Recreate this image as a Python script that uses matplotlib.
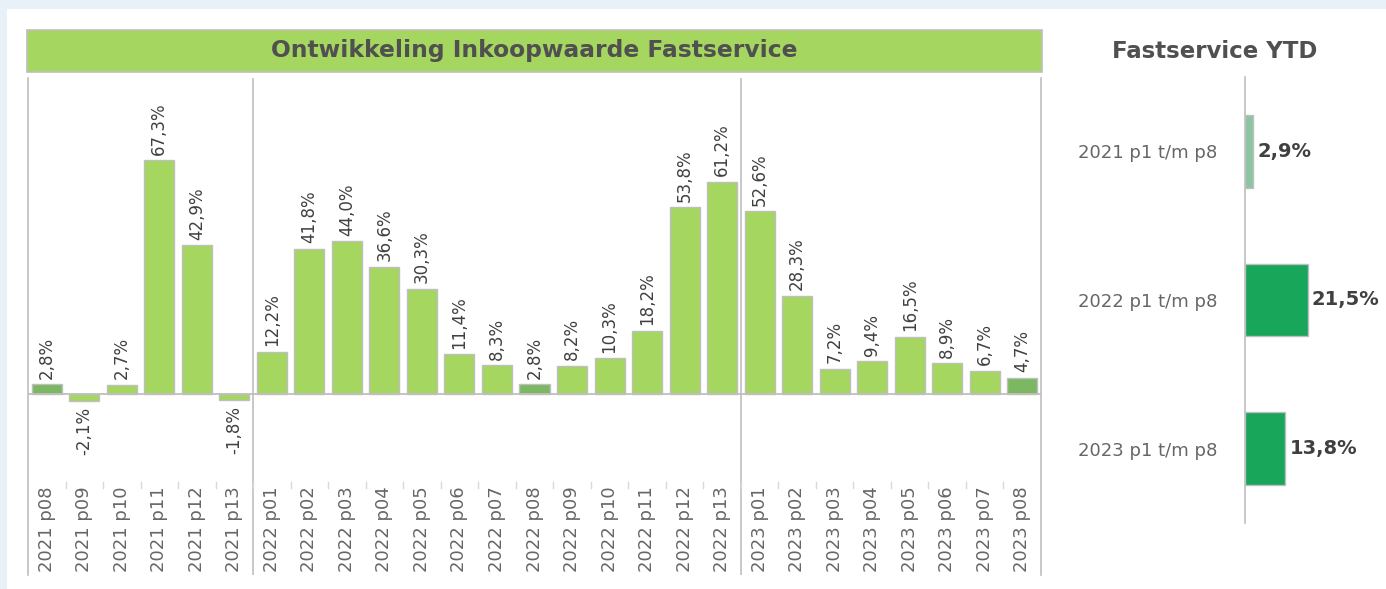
import matplotlib
matplotlib.use("Agg")
import matplotlib.pyplot as plt
from matplotlib.patches import Rectangle
import matplotlib.transforms as mtransforms

# ---- data ----
categories = ["2021 p08", "2021 p09", "2021 p10", "2021 p11", "2021 p12", "2021 p13",
              "2022 p01", "2022 p02", "2022 p03", "2022 p04", "2022 p05", "2022 p06", "2022 p07",
              "2022 p08", "2022 p09", "2022 p10", "2022 p11", "2022 p12", "2022 p13",
              "2023 p01", "2023 p02", "2023 p03", "2023 p04", "2023 p05", "2023 p06", "2023 p07",
              "2023 p08"]
values = [2.8, -2.1, 2.7, 67.3, 42.9, -1.8,
          12.2, 41.8, 44.0, 36.6, 30.3, 11.4, 8.3, 2.8, 8.2, 10.3, 18.2, 53.8, 61.2,
          52.6, 28.3, 7.2, 9.4, 16.5, 8.9, 6.7, 4.7]
ytd_labels = ["2021 p1 t/m p8", "2022 p1 t/m p8", "2023 p1 t/m p8"]
ytd_values = [2.9, 21.5, 13.8]

main_title = "Ontwikkeling Inkoopwaarde Fastservice"
ytd_title = "Fastservice YTD"

# ---- styling ----
W, H = 1386, 589
LIGHT = "#A5D65F"
DARK = "#7CB862"
YTD_LIGHT = "#8CC6A0"
YTD_DARK = "#18A65A"
GRID = "#BFBFBF"
TXT = "#404040"
LBL = "#666666"
FONT = "DejaVu Sans"
plt.rcParams['font.family'] = [FONT]

fig = plt.figure(figsize=(W / 100, H / 100), dpi=100)
fig.patch.set_facecolor("#E8F0F8")

def fr(x0, y0, x1, y1):
    """pixel box (top-left origin) -> figure fraction rect"""
    return [x0 / W, 1 - y1 / H, (x1 - x0) / W, (y1 - y0) / H]

# white panel
fig.patches.append(Rectangle((7 / W, 0), 1 - 7 / W, 1 - 9 / H, transform=fig.transFigure,
                             facecolor="white", edgecolor="none", zorder=-10))
# title bar
tb = fr(27, 30, 1042, 72)
fig.patches.append(Rectangle((tb[0], tb[1]), tb[2], tb[3], transform=fig.transFigure,
                             facecolor=LIGHT, edgecolor=GRID, linewidth=1.2, zorder=-5))
fig.text(tb[0] + tb[2] / 2, tb[1] + tb[3] / 2, main_title, ha="center", va="center",
         fontsize=16.8, fontweight="bold", color="#505050")

# ---- main axes ----
ax = fig.add_axes(fr(28, 78, 1041, 575))
ax.set_facecolor("none")
n = len(categories)
x = list(range(n))
colors = [DARK if c.endswith("p08") else LIGHT for c in categories]
ax.bar(x, values, width=0.8, color=colors, edgecolor=GRID, linewidth=1.0, zorder=2)
ax.set_xlim(-0.5, n - 0.5)
px_per = 3.47
ax.set_ylim(-(575 - 394) / px_per, (394 - 78) / px_per)
ax.axhline(0, color=GRID, linewidth=1.3, zorder=3)
for s in ["top", "bottom"]:
    ax.spines[s].set_visible(False)
for s in ["left", "right"]:
    ax.spines[s].set_color(GRID)
    ax.spines[s].set_linewidth(1.2)
ax.set_xticks([])
ax.set_yticks([])

# year separators
years = [c.split()[0] for c in categories]
for i in range(1, n):
    if years[i] != years[i - 1]:
        ax.axvline(i - 0.5, color=GRID, linewidth=1.2, zorder=1)

blend = mtransforms.blended_transform_factory(ax.transData, ax.transAxes)
# small tick marks between categories
for i in range(1, n):
    ax.plot([i - 0.5, i - 0.5], [0.175, 0.187], transform=blend, color="#D9D9D9",
            linewidth=1.0, zorder=1)
# category labels
for i, c in enumerate(categories):
    ax.text(i, 0.006, c, transform=blend, rotation=90, ha="center", va="bottom",
            fontsize=13, color=LBL)

# data labels
for i, v in enumerate(values):
    lab = f"{v:.1f}%".replace(".", ",")
    if v >= 0:
        ax.annotate(lab, (i, v), xytext=(0, 4), textcoords="offset points", rotation=90,
                    ha="center", va="bottom", fontsize=12, color=TXT)
    else:
        ax.annotate(lab, (i, v), xytext=(0, -4), textcoords="offset points", rotation=90,
                    ha="center", va="top", fontsize=12, color=TXT)

# ---- YTD axes ----
ax2 = fig.add_axes(fr(1245, 77, 1386, 523))
ax2.set_facecolor("none")
ypos = list(range(len(ytd_labels)))
ytd_colors = [YTD_LIGHT, YTD_DARK, YTD_DARK]
ax2.barh(ypos, ytd_values, height=0.49, color=ytd_colors, edgecolor=GRID, linewidth=1.0, zorder=2)
ax2.set_ylim(len(ytd_labels) - 0.5, -0.5)
ax2.set_xlim(0, 141 / 2.92)
for s in ["top", "bottom", "right"]:
    ax2.spines[s].set_visible(False)
ax2.spines["left"].set_color(GRID)
ax2.spines["left"].set_linewidth(1.2)
ax2.set_xticks([])
ax2.set_yticks(ypos)
ax2.set_yticklabels(ytd_labels, fontsize=13, color=LBL)
ax2.tick_params(axis="y", length=0, pad=20)
for i, v in enumerate(ytd_values):
    ax2.annotate(f"{v:.1f}%".replace(".", ","), (v, i), xytext=(3, 0),
                 textcoords="offset points", ha="left", va="center",
                 fontsize=14, fontweight="bold", color=TXT)

fig.text(1215 / W, 1 - 52 / H, ytd_title, ha="center", va="center", fontsize=16.5,
         fontweight="bold", color="#505050")

fig.savefig("out.png", dpi=100, facecolor=fig.get_facecolor())
